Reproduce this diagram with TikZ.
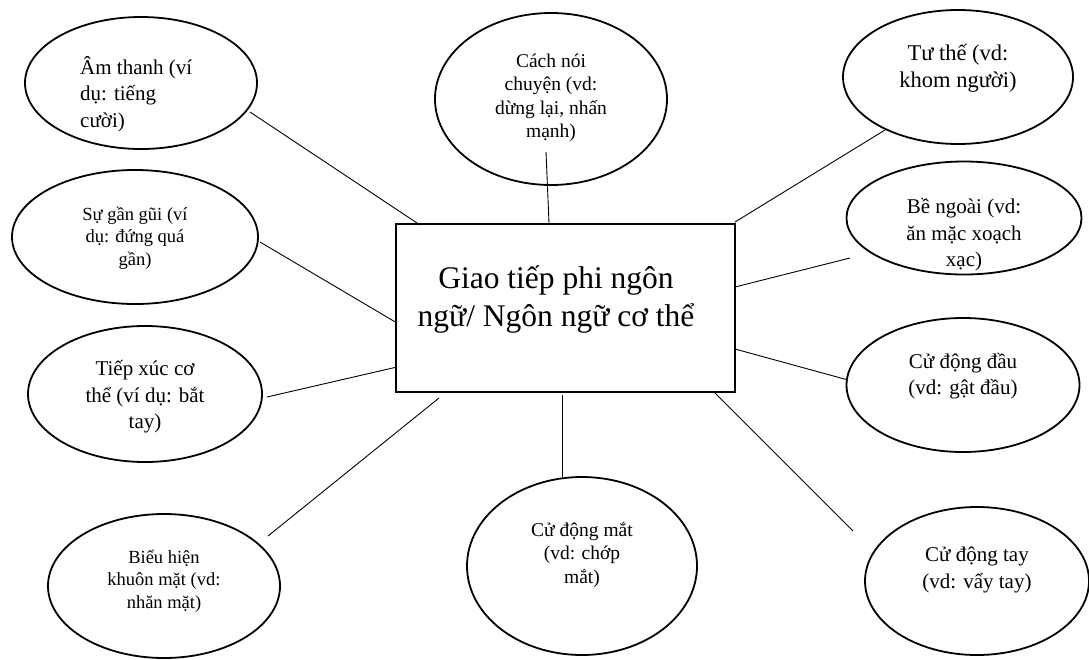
\documentclass[tikz,border=0pt]{standalone}
\usepackage{fontspec}
\setmainfont{Liberation Serif}
\usetikzlibrary{shapes.geometric}
\begin{document}
\begin{tikzpicture}[x=1pt,y=-1pt,
  bubble/.style={draw, ellipse, line width=1.8pt, inner sep=0pt},
  hub/.style={draw, rectangle, line width=2.6pt, inner sep=0pt},
  link/.style={line width=0.9pt},
  lbl/.style={align=center, inner sep=0pt},
  fA/.style={font={\fontsize{21}{26.5}\selectfont}},
  fT/.style={font={\fontsize{22.5}{27}\selectfont}},
  fB/.style={font={\fontsize{19.5}{23.5}\selectfont}},
  fC/.style={font={\fontsize{18.5}{22.5}\selectfont}},
  fM/.style={font={\fontsize{31.5}{38}\selectfont}}]
\useasboundingbox (0,0) rectangle (1089,659);
\fill[white] (0,0) rectangle (1089,659);

% central box
\node[hub, minimum width=339pt, minimum height=168pt] (hub) at (565.5,308) {};
\node[lbl, fM] (tm) at (556,299) {Giao tiếp phi ngôn\\ngữ/ Ngôn ngữ cơ thể};

% ellipses
\node[bubble, minimum width=232pt, minimum height=132pt] (e1) at (141,83) {};
\node[bubble, minimum width=232pt, minimum height=172pt] (e2) at (551,99) {};
\node[bubble, minimum width=230pt, minimum height=134pt] (e3) at (958,77) {};
\node[bubble, minimum width=235pt, minimum height=113pt] (e4) at (964,218) {};
\node[bubble, minimum width=233pt, minimum height=134pt] (e5) at (963,385) {};
\node[bubble, minimum width=224pt, minimum height=148pt] (e6) at (977,581) {};
\node[bubble, minimum width=230pt, minimum height=178pt] (e7) at (582,566) {};
\node[bubble, minimum width=232pt, minimum height=144pt] (e8) at (164,586) {};
\node[bubble, minimum width=234pt, minimum height=136pt] (e9) at (145,394) {};
\node[bubble, minimum width=246pt, minimum height=134pt] (e10) at (135,237) {};

% labels
\node[lbl, fA, align=left, anchor=west] (t1) at (80,94) {Âm thanh (ví\\dụ: tiếng\\cười)};
\node[lbl, fB] (t2) at (551,98) {Cách nói\\chuyện (vd:\\dừng lại, nhấn\\mạnh)};
\node[lbl, fT] (t3) at (958,68) {Tư thế (vd:\\khom người)};
\node[lbl, fA] (t4) at (964,235) {Bề ngoài (vd:\\ăn mặc xoạch\\xạc)};
\node[lbl, fA] (t5) at (963,376) {Cử động đầu\\(vd: gật đầu)};
\node[lbl, fA] (t6) at (977,570) {Cử động tay\\(vd: vẩy tay)};
\node[lbl, fB] (t7) at (582,555) {Cử động mắt\\(vd: chớp\\mắt)};
\node[lbl, fC] (t8) at (164,581) {Biểu hiện\\khuôn mặt (vd:\\nhăn mặt)};
\node[lbl, fA] (t9) at (145,397) {Tiếp xúc cơ\\thể (ví dụ: bắt\\tay)};
\node[lbl, fC] (t10) at (135,238) {Sự gần gũi (ví\\dụ: đứng quá\\gần)};

% connector end points
\coordinate (a1) at (250,112);  \coordinate (b1) at (420,225);
\coordinate (a2) at (546,152);  \coordinate (b2) at (549,223);
\coordinate (a3) at (885,130);  \coordinate (b3) at (735,222);
\coordinate (a4) at (850,258);  \coordinate (b4) at (735,287);
\coordinate (a5) at (848,380);  \coordinate (b5) at (735,349);
\coordinate (a6) at (853,531);  \coordinate (b6) at (715,393);
\coordinate (a7) at (562,477);  \coordinate (b7) at (562,395);
\coordinate (a8) at (268,536);  \coordinate (b8) at (439,398);
\coordinate (a9) at (267,397);  \coordinate (b9) at (397,367);
\coordinate (a10) at (260,242); \coordinate (b10) at (397,323);

\foreach \i in {1,...,10} {\draw[link] (a\i) -- (b\i);}
\end{tikzpicture}
\end{document}
